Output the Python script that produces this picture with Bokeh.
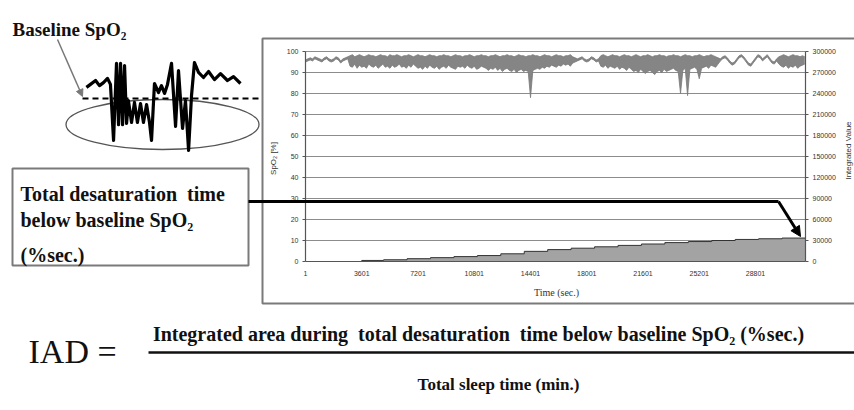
import math
from bokeh.plotting import figure
from bokeh.models import Range1d, Arrow, NormalHead
from bokeh.core.properties import value
from bokeh.embed import file_html
from bokeh.resources import INLINE

# ---------------- data ----------------
time_ticks = [1, 3601, 7201, 10801, 14401, 18001, 21601, 25201, 28801]
time_tick_labels = ["1", "3601", "7201", "10801", "14401", "18001", "21601", "25201", "28801"]
time_max = 32000

spo2_ticks = [0, 10, 20, 30, 40, 50, 60, 70, 80, 90, 100]
spo2_tick_labels = ["0", "10", "20", "30", "40", "50", "60", "70", "80", "90", "100"]

iv_ticks = [0, 30000, 60000, 90000, 120000, 150000, 180000, 210000, 240000, 270000, 300000]
iv_tick_labels = ["0", "30000", "60000", "90000", "120000", "150000", "180000",
                  "210000", "240000", "270000", "300000"]

# SpO2 trace as upper / lower envelope, one pair every 150 s starting at t = 1 s
spo2_sample_step = 150
spo2_upper = [
    96, 96.5, 97, 96.5, 97.5, 97, 96.5, 96, 97, 97.5, 96.5, 96, 96.5, 97.5, 97, 95.5, 96.5, 97, 97.5,
    98, 98.5, 97.5, 98, 98.5, 98, 97.5, 98, 98.5, 98,
    98, 97.5, 98, 98.5, 98, 98, 97.5, 98.5, 98, 98,
    98.5, 98, 97.5, 98, 98, 98.5, 98, 97.5, 98, 98.5,
    98, 98, 97.5, 98, 98.5, 98, 98, 97.5, 98, 98,
    98.5, 98, 98, 97.5, 98, 98.5, 98, 98, 97.5, 98,
    98, 98.5, 98, 97.5, 98, 98, 98.5, 98, 98, 97.5,
    98, 98, 98.5, 98, 97.5, 98, 98, 98.5, 98, 98,
    97.5, 98, 98.5, 98, 98, 97.5, 98, 98, 98.5, 98,
    98, 97.5, 98, 98.5, 98, 98, 97.5, 98, 98.5, 98,
    98, 97.5, 98, 98, 98.5, 97.5, 97,
    96.5, 97, 97.5, 96.5, 96, 96.5, 97.5, 97, 96, 96.5,
    98, 98.5, 98, 97.5, 98, 98.5, 98, 98, 97.5, 98,
    98.5, 98, 98, 97.5, 98, 98.5, 98, 97.5, 98, 98,
    98.5, 98, 97.5, 98, 98, 98.5, 98, 98, 97.5, 98,
    98, 98.5, 98, 98, 97.5, 98, 98.5, 98, 98, 97.5,
    98, 98, 98.5, 98, 97.5, 98, 98, 98.5, 98, 97.5, 97,
    96.5, 97.5, 98, 97, 95.5, 94.5, 95, 96.5, 98, 98.5, 97.5, 96, 94.5, 94, 95.5,
    97, 98.5, 98, 96.5, 97.5, 98.5, 97, 95.5, 95, 96.5,
    97.5, 98, 98.5, 98, 97.5, 98, 98.5, 98, 98, 97.5, 98, 97.5,
]
spo2_lower = [
    95, 95.5, 96, 95.5, 96.5, 96, 95.5, 95, 96, 96.5, 95.5, 95, 95.5, 96.5, 96, 94.5, 95.5, 96, 96.5,
    93, 92.5, 94, 92, 93.5, 92.5, 93, 92, 94, 93,
    92.5, 93.5, 92, 93, 94, 92.5, 93, 92, 93.5, 92.5,
    93, 94, 92.5, 93, 92, 93.5, 92.5, 94, 93, 92,
    92.5, 91.5, 93, 92, 93.5, 92.5, 92, 93, 91.5, 92.5,
    93, 92, 93.5, 92.5, 92, 91.5, 93, 92.5, 93, 92,
    93.5, 92.5, 92, 93, 91.5, 92, 93, 92.5, 92, 91,
    92, 91.5, 92.5, 91, 92, 90.5, 91.5, 92, 91, 90.5,
    91.5, 90, 91, 91.5, 90.5, 91, 90.5, 78, 91, 91.5,
    92, 91.5, 92.5, 92, 93, 92.5, 93.5, 93, 92.5, 93.5,
    93, 94, 93.5, 94, 93, 94.5, 95,
    95.5, 96, 96.5, 95.5, 95, 95.5, 96.5, 96, 95, 95.5,
    93, 92.5, 93.5, 92, 93, 92.5, 92, 93, 91.5, 92.5,
    92, 91, 92.5, 91.5, 90.5, 91, 90, 91.5, 90.5, 89.5,
    90.5, 91, 90, 89, 90.5, 91, 90, 91.5, 90.5, 91,
    91.5, 92, 91, 90.5, 80, 91, 92, 79, 91.5, 92,
    92.5, 91.5, 87, 92, 92.5, 93, 92, 93.5, 93, 92.5, 94,
    95.5, 96.5, 97, 96, 94.5, 93.5, 94, 95.5, 97, 97.5, 96.5, 95, 93.5, 93, 94.5,
    96, 97.5, 97, 95.5, 96.5, 97.5, 96, 94.5, 94, 95.5,
    94, 93, 92.5, 93.5, 92, 93, 92.5, 93.5, 92, 93, 93.5, 94,
]
spo2_times = [1 + i * spo2_sample_step for i in range(len(spo2_upper))]

# integrated value (cumulative desaturation area), stepwise
iv_times = [2500, 3600, 5000, 6500, 8000, 9500, 11000, 12500, 14000, 15500, 17000,
            18500, 20000, 21500, 23000, 24500, 26000, 27500, 29000, 30500, 32000]
iv_values = [0, 1500, 2500, 4000, 5500, 7000, 8500, 11000, 14500, 17000, 19000,
             21000, 23000, 25000, 27000, 28500, 30000, 31500, 32500, 33500, 35000]

# schematic SpO2 sketch (illustration, top left)
sketch_t = [0.6, 3.2, 6.5, 9, 11.6, 14.2, 16.1, 18.1, 20, 21.3, 22.6, 23.9, 25.2, 26.5, 27.7,
            29.7, 31.6, 33.5, 35.5, 37.4, 39.4, 41.3, 42.6, 44.5, 47.1, 49, 51, 52.9, 55.5,
            58.1, 60, 62.6, 64.5, 66.5, 68.4, 70.3, 72.9, 76.1, 79.4, 83.2, 87.1, 91.6, 95.5, 100]
sketch_spo2 = [98.7, 99.7, 101, 99.3, 100.3, 101.7, 99.7, 81, 106.7, 86.3, 106.7, 86.3, 106, 86.7,
               94.3, 87, 93.7, 87, 93.3, 87, 93, 87, 81, 100, 97, 99.3, 96.7, 99.7, 106.7,
               85.7, 104.3, 85, 94.3, 77.7, 96, 107, 103.7, 102, 104, 101.3, 103.3, 101, 102.3, 100]
sketch_baseline = 95

# ---------------- layout ----------------
W, H = 854, 410
FX0, FX1, FY_TOP, FY_BOT = 0, W, 0, H            # canvas in page pixels
PX_L, PX_R, PY_B, PY_T = 305, 805, 261, 51       # inner chart plot area


def outer_range(v0, v1, p0, p1, f0, f1):
    k = (v1 - v0) / (p1 - p0)
    return Range1d(v0 + (f0 - p0) * k, v0 + (f1 - p0) * k)


p = figure(width=W, height=H, x_range=Range1d(FX0, FX1), y_range=Range1d(FY_BOT, FY_TOP),
           output_backend="svg", toolbar_location=None, min_border=0,
           x_axis_location=None, y_axis_location=None)
p.grid.visible = False
p.outline_line_color = None
p.background_fill_color = "white"

p.extra_x_ranges = {
    "t": outer_range(0, time_max, PX_L, PX_R, FX0, FX1),
    "sk": outer_range(0, 100, 85, 240, FX0, FX1),
}
p.extra_y_ranges = {
    "spo2": outer_range(0, 100, PY_B, PY_T, FY_BOT, FY_TOP),
    "iv": outer_range(0, 300000, PY_B, PY_T, FY_BOT, FY_TOP),
    "sk": outer_range(sketch_baseline, sketch_baseline + 5, 98, 83, FY_BOT, FY_TOP),
}

SERIF = value("Liberation Serif")
SANS = value("Liberation Sans")

# ---- outer chart box ----
p.line(x=[870, 262, 262, 870], y=[38, 38, 303, 303], line_color="#7a7a7a", line_width=2)

# ---- grid lines ----
p.segment(x0=0, x1=time_max, y0=spo2_ticks[1:], y1=spo2_ticks[1:], line_color="#8c8c8c",
          line_width=1, x_range_name="t", y_range_name="spo2")

# ---- integrated value area ----
p.varea_step(x=iv_times, y1=0, y2=iv_values, step_mode="after", fill_color="#a3a3a3",
             x_range_name="t", y_range_name="iv")
p.step(x=iv_times, y=iv_values, mode="after", line_color="#333333", line_width=1,
       x_range_name="t", y_range_name="iv")

# ---- SpO2 trace (band) ----
p.varea(x=spo2_times, y1=spo2_lower, y2=spo2_upper, fill_color="#858585",
        x_range_name="t", y_range_name="spo2")
p.line(x=spo2_times, y=spo2_upper, line_color="#7a7a7a", line_width=0.8,
       x_range_name="t", y_range_name="spo2")
p.line(x=spo2_times, y=spo2_lower, line_color="#7a7a7a", line_width=0.8,
       x_range_name="t", y_range_name="spo2")

# ---- plot area axes ----
p.segment(x0=[0, time_max, 0], x1=[0, time_max, time_max], y0=[0, 0, 0], y1=[100, 100, 0],
          line_color="#555555", line_width=1.2, x_range_name="t", y_range_name="spo2")
p.segment(x0=PX_L - 3, x1=PX_L, y0=spo2_ticks, y1=spo2_ticks, line_color="#555555",
          y_range_name="spo2")
p.segment(x0=PX_R, x1=PX_R + 3, y0=iv_ticks, y1=iv_ticks, line_color="#555555",
          y_range_name="iv")

# tick labels
p.text(x=[PX_L - 7] * len(spo2_ticks), y=spo2_ticks, text=spo2_tick_labels, text_font=SANS,
       text_font_size="7px", text_color="#333333", text_align="right", text_baseline="middle",
       y_range_name="spo2")
p.text(x=[PX_R + 7] * len(iv_ticks), y=iv_ticks, text=iv_tick_labels, text_font=SANS,
       text_font_size="7px", text_color="#333333", text_align="left", text_baseline="middle",
       y_range_name="iv")
p.text(x=time_ticks, y=[273] * len(time_ticks), text=time_tick_labels, text_font=SANS,
       text_font_size="7px", text_color="#333333", text_align="center", text_baseline="middle",
       x_range_name="t")

# axis titles
p.text(x=[273], y=[158], text=["SpO₂ [%]"], text_font=SANS, text_font_size="8px",
       text_color="#333333", angle=math.pi / 2, text_align="center", text_baseline="middle")
p.text(x=[848], y=[150], text=["Integrated Value"], text_font=SANS, text_font_size="8px",
       text_color="#333333", angle=math.pi / 2, text_align="center", text_baseline="middle")
p.text(x=[556], y=[292], text=["Time (sec.)"], text_font=SERIF, text_font_size="10px",
       text_color="#333333", text_align="center", text_baseline="middle")

# ---- sketch illustration ----
p.ellipse(x=[162], y=[124], width=[193], height=[50], fill_color=None,
          line_color="#555555", line_width=1.3)
p.segment(x0=82, x1=258, y0=sketch_baseline, y1=sketch_baseline, line_color="black",
          line_width=2, line_dash="6 4", y_range_name="sk")
p.line(x=sketch_t, y=sketch_spo2, line_color="black", line_width=3.2, line_join="round",
       x_range_name="sk", y_range_name="sk")
p.add_layout(Arrow(end=NormalHead(size=7, fill_color="#777777", line_color="#777777"),
                   x_start=57, y_start=39, x_end=82, y_end=96,
                   line_color="#777777", line_width=1.5))
p.text(x=[12], y=[29], text=["Baseline SpO₂"], text_font=SERIF, text_font_size="19px",
       text_font_style="bold", text_color="#111111", text_baseline="alphabetic")

# ---- text box ----
p.quad(left=12, right=248, top=168, bottom=265, fill_color="white", line_color="#7a7a7a",
       line_width=2)
p.text(x=[20, 20, 20], y=[193, 219, 254],
       text=["Total desaturation\u00a0 time", "below baseline SpO₂", "(%sec.)"],
       text_font=SERIF, text_font_size="20px", text_font_style="bold", text_color="#111111",
       text_baseline="alphabetic")

# ---- pointer from text box into chart ----
p.line(x=[248, 778], y=[201, 201], line_color="black", line_width=3)
p.add_layout(Arrow(end=NormalHead(size=10, fill_color="black", line_color="black"),
                   x_start=778, y_start=201, x_end=800, y_end=236,
                   line_color="black", line_width=3))

# ---- formula ----
p.text(x=[28], y=[351], text=["IAD ="], text_font=SERIF, text_font_size="34px",
       text_color="#111111", text_baseline="middle")
p.text(x=[478], y=[333],
       text=["Integrated area during\u00a0 total desaturation\u00a0 time below baseline SpO₂ (%sec.)"],
       text_font=SERIF, text_font_size="20px", text_font_style="bold", text_color="#111111",
       text_align="center", text_baseline="alphabetic")
p.segment(x0=148, x1=854, y0=352, y1=352, line_color="#111111", line_width=2.5)
p.text(x=[498], y=[384], text=["Total sleep time (min.)"], text_font=SERIF,
       text_font_size="17px", text_font_style="bold", text_color="#111111",
       text_align="center", text_baseline="alphabetic")

open("out.html", "w").write(file_html(p, INLINE))
